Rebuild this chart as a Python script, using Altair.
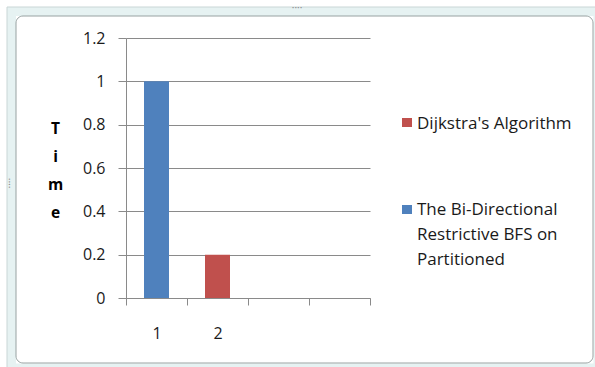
import altair as alt
import pandas as pd

# ---- data ----
categories = ["1", "2", "3", "4"]
bar_categories = ["1", "2"]
bar_series = ["The Bi-Directional Restrictive BFS on Partitioned", "Dijkstra's Algorithm"]
bar_values = [1.0, 0.2]

legend_series = ["Dijkstra's Algorithm", "The Bi-Directional Restrictive BFS on Partitioned"]
legend_text = ["Dijkstra's Algorithm", "The Bi-Directional\nRestrictive BFS on\nPartitioned"]
series_colors = ["#C0504D", "#4F81BD"]

y_ticks = [0, 0.2, 0.4, 0.6, 0.8, 1.0, 1.2]
y_title = ["T", "i", "m", "e"]

# ---- layout (plot area placement) ----
W, H = 244, 260
PAD = {"left": 126, "top": 38, "right": 595 - 126 - W, "bottom": 367 - 38 - H}
FONT = "Open Sans"
TXT = "#1a1a1a"
GRID = "#8a8a8a"

one = pd.DataFrame({"k": [0]})

# outer frame (decoration, strokes only so axes stay visible)
frame_outer = alt.Chart(one).mark_rect(fill=None, stroke="#e6f2f2", strokeWidth=9).encode(
    x=alt.value(11.5 - 126), x2=alt.value(598 - 126), y=alt.value(11.5 - 38), y2=alt.value(368 - 38)
)
frame_edge = alt.Chart(one).mark_rect(fill=None, stroke="#c9d6d6", strokeWidth=1).encode(
    x=alt.value(7 - 126), x2=alt.value(602 - 126), y=alt.value(7 - 38), y2=alt.value(372 - 38)
)
frame_inner = alt.Chart(one).mark_rect(fill=None, stroke="#98a2a2", strokeWidth=1, cornerRadius=7).encode(
    x=alt.value(16 - 126), x2=alt.value(593 - 126), y=alt.value(16 - 38), y2=alt.value(363 - 38)
)
grip_top = alt.Chart(one).mark_text(text="····", fontSize=10, color="#8a8a8a", font=FONT).encode(
    x=alt.value(297 - 126), y=alt.value(8 - 38)
)
grip_left = alt.Chart(one).mark_text(text="····", fontSize=10, color="#8a8a8a", font=FONT, angle=90).encode(
    x=alt.value(9 - 126), y=alt.value(183 - 38)
)

bars_df = pd.DataFrame({"category": bar_categories, "series": bar_series, "value": bar_values})

bars = alt.Chart(bars_df).mark_bar(size=25).encode(
    x=alt.X(
        "category:N",
        scale=alt.Scale(domain=categories, paddingInner=0, paddingOuter=0),
        axis=alt.Axis(
            title=None,
            labelAngle=0,
            labelExpr="datum.value == '1' || datum.value == '2' ? datum.value : ''",
            tickBand="extent",
            tickSize=7,
            tickColor=GRID,
            domainColor=GRID,
            labelPadding=20,
            labelFont=FONT,
            labelFontSize=16,
            labelColor=TXT,
            labelBaseline="top",
            grid=False,
        ),
    ),
    y=alt.Y(
        "value:Q",
        scale=alt.Scale(domain=[0, 1.2], nice=False, zero=True),
        axis=alt.Axis(
            values=y_ticks,
            labelExpr="datum.value == 0 || datum.value == 1 ? format(datum.value, 'd') : format(datum.value, '.1f')",
            grid=True,
            gridColor=GRID,
            gridWidth=1,
            tickColor=GRID,
            tickSize=8,
            domainColor=GRID,
            labelPadding=13,
            labelFont=FONT,
            labelFontSize=16,
            labelColor=TXT,
            title=y_title,
            titleAngle=0,
            titleAlign="center",
            titleBaseline="alphabetic",
            titleX=55 - 126,
            titleY=133 - 38,
            titleLineHeight=28,
            titleFont=FONT,
            titleFontSize=15.5,
            titleFontWeight="bold",
            titleColor="#000000",
        ),
    ),
    color=alt.Color("series:N", scale=alt.Scale(domain=legend_series, range=series_colors), legend=None),
)

# manual legend (decoration placed to the right of the plot)
legend_layers = []
sq_tops = [118, 205]
baselines = [128.5, 214.5]
for name, txt, col, t, b in zip(legend_series, legend_text, series_colors, sq_tops, baselines):
    legend_layers.append(
        alt.Chart(one).mark_rect(color=col).encode(
            x=alt.value(402 - 126), x2=alt.value(412 - 126), y=alt.value(t - 38), y2=alt.value(t + 9 - 38)
        )
    )
    legend_layers.append(
        alt.Chart(one).mark_text(
            text=txt, lineBreak="\n", align="left", baseline="alphabetic",
            font=FONT, fontSize=17, color=TXT, lineHeight=25,
        ).encode(x=alt.value(417 - 126), y=alt.value(b - 38))
    )

chart = alt.layer(frame_outer, frame_edge, frame_inner, grip_top, grip_left, bars, *legend_layers).properties(
    width=W,
    height=H,
    padding=PAD,
    autosize=alt.AutoSizeParams(type="none"),
    background="white",
).configure_view(stroke=None)

chart.save("out.html", embed_options={"renderer": "svg", "actions": False})
